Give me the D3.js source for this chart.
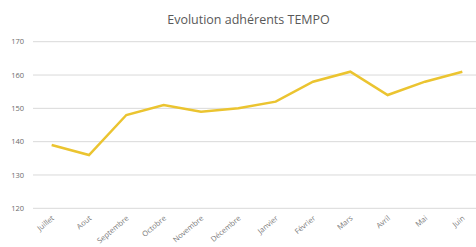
<!DOCTYPE html>
<html><head><meta charset="utf-8">
<script src="https://cdn.jsdelivr.net/npm/d3@7"></script>
<style>body{margin:0;background:#fff;}svg{display:block;}</style>
</head><body>
<svg id="c" width="476" height="247"></svg>
<script>
const months = ["Juillet","Aout","Septembre","Octobre","Novembre","Décembre","Janvier","Février","Mars","Avril","Mai","Juin"];
const adherents = [139,136,148,151,149,150,152,158,161,154,158,161];
const yTicks = [120,130,140,150,160,170];
const title = "Evolution adhérents TEMPO";

const svg = d3.select("#c");
const font = "'Open Sans', sans-serif";
const x = d3.scaleBand().domain(months).range([33, 481]);
const y = d3.scaleLinear().domain([120,170]).range([208.3, 41.7]);

svg.append("g").selectAll("line").data(yTicks).join("line")
  .attr("x1", 33).attr("x2", 476)
  .attr("y1", d => y(d)).attr("y2", d => y(d))
  .attr("stroke", "#d9d9d9").attr("stroke-width", 1);

svg.append("g").selectAll("text").data(yTicks).join("text")
  .attr("x", 24).attr("y", d => y(d)).attr("dy", "0.35em")
  .attr("text-anchor", "end").attr("font-family", font).attr("font-size", 7.5)
  .attr("fill", "#6b6b6b").text(d => d);

svg.append("g").selectAll("text").data(months).join("text")
  .attr("transform", d => `translate(${x(d) + x.bandwidth()/2 + 3},${219}) rotate(-40)`)
  .attr("text-anchor", "end").attr("font-family", font).attr("font-size", 7.5)
  .attr("fill", "#7a7a7a").text(d => d);

const line = d3.line().x((d,i) => x(months[i]) + x.bandwidth()/2).y(d => y(d));
svg.append("path").datum(adherents).attr("d", line)
  .attr("fill", "none").attr("stroke", "#EBC430").attr("stroke-width", 2.5)
  .attr("stroke-linejoin", "miter");

svg.append("text").attr("x", 248.5).attr("y", 24).attr("text-anchor", "middle")
  .attr("font-family", font).attr("font-size", 12.5).attr("fill", "#595959").text(title);
</script>
</body></html>
